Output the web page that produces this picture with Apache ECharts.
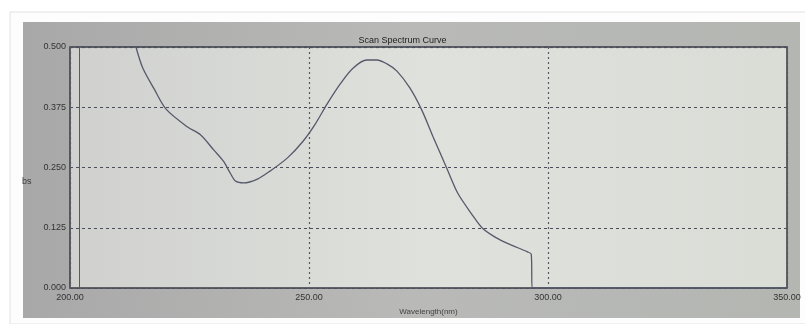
<!DOCTYPE html>
<html><head><meta charset="utf-8">
<script src="https://cdn.jsdelivr.net/npm/echarts@6/dist/echarts.min.js"></script>
<style>html,body{margin:0;padding:0;background:#fff}#c{width:805px;height:324px}</style>
</head><body><div id="c"></div>
<script>
const wavelengths = [213.8,215.2,217.6,220.1,224.6,227.3,230.1,232.1,233.6,234.6,236.3,239.2,241.9,245.5,248.8,251.3,253.8,256.5,259.2,262.1,264.2,266.3,268.4,271.1,273.6,275.9,278.8,281.1,284.0,286.3,289.2,291.9,295.7,296.5,296.7,350.0];
const absorbance  = [0.500,0.457,0.413,0.371,0.334,0.318,0.286,0.263,0.237,0.222,0.218,0.226,0.243,0.270,0.305,0.340,0.382,0.423,0.456,0.473,0.473,0.465,0.450,0.415,0.369,0.315,0.249,0.197,0.154,0.124,0.104,0.091,0.075,0.070,0.000,0.000];
const xTickLabels = ['200.00','250.00','300.00','350.00'];
const yTickLabels = ['0.000','0.125','0.250','0.375','0.500'];
const cursorX = [202];
const titleText = 'Scan Spectrum Curve';
const xName = 'Wavelength(nm)';
const yName = 'bs';

const chart = echarts.init(document.getElementById('c'));
const FONT = '"Liberation Sans Narrow","Liberation Sans",Arial,sans-serif';
chart.setOption({
  animation:false,
  backgroundColor:'#ffffff',
  graphic:[
    {type:'rect',z:-10,shape:{x:10,y:12,width:800,height:312},style:{fill:'#fdfdfd',stroke:'#e2e2e2',lineWidth:1}},
    {type:'rect',z:-9,shape:{x:23,y:22,width:777,height:296},
     style:{fill:{type:'linear',x:0,y:0,x2:1,y2:0,colorStops:[{offset:0,color:'#a8a8a8'},{offset:0.5,color:'#b9bab8'},{offset:1,color:'#b4b6b2'}]}}},
    {type:'text',left:22,top:177,style:{text:yName,fill:'#3a3a3a',font:'9px '+FONT}}
  ],
  title:{text:titleText,left:'center',top:31,textStyle:{fontSize:9,fontWeight:'normal',color:'#222',fontFamily:FONT}},
  grid:{left:70,right:18,top:47,bottom:36,show:true,borderColor:'#3a3a44',borderWidth:1.5,
    backgroundColor:{type:'linear',x:0,y:0,x2:1,y2:0,colorStops:[{offset:0,color:'#d0d1cf'},{offset:0.5,color:'#dfe1dc'},{offset:1,color:'#dadcd6'}]}},
  xAxis:{type:'value',min:200,max:350,interval:50,
    name:xName,nameLocation:'middle',nameGap:20,
    nameTextStyle:{fontSize:8,color:'#444',fontFamily:FONT},
    axisLine:{show:false},axisTick:{show:false},
    axisLabel:{fontSize:9,color:'#333',fontFamily:FONT,margin:5,
      formatter:v=>xTickLabels[Math.round((v-200)/50)]},
    splitLine:{show:true,lineStyle:{color:'#555a66',type:[2,3],width:1.2}}},
  yAxis:{type:'value',min:0,max:0.5,interval:0.125,
    axisLine:{show:false},axisTick:{show:false},
    axisLabel:{fontSize:9,color:'#333',fontFamily:FONT,margin:4,
      formatter:v=>yTickLabels[Math.round(v/0.125)]},
    splitLine:{show:true,lineStyle:{color:'#4a4e58',type:[3,3],width:1.2}}},
  series:[{
    type:'line',
    data:wavelengths.map((w,i)=>[w,absorbance[i]]),
    showSymbol:false,smooth:0.3,
    lineStyle:{color:'#55596a',width:1.3},
    markLine:{silent:true,symbol:'none',label:{show:false},
      lineStyle:{color:'#55596a',type:'solid',width:1},
      data:cursorX.map(x=>({xAxis:x}))}
  }]
});
</script></body></html>
